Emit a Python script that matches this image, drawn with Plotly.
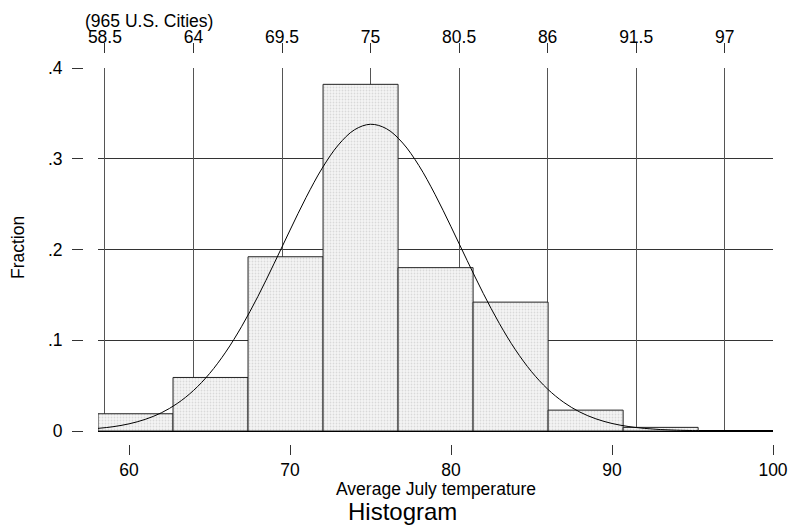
import plotly.graph_objects as go

# ---- data ----
bin_start = 58.07
bin_width = 4.66
fractions = [0.019, 0.059, 0.192, 0.382, 0.180, 0.142, 0.023, 0.004]

curve_x = [58.07, 59, 60, 61, 62, 63, 64, 65, 66, 67, 68, 69, 70, 71, 72, 73, 74,
           75, 76, 77, 78, 79, 80, 81, 82, 83, 84, 85, 86, 87, 88, 89, 90, 91, 92,
           93, 94, 95, 95.35]
curve_y = [0.0029, 0.0047, 0.0079, 0.0128, 0.0200, 0.0304, 0.0446, 0.0633, 0.0869,
           0.1154, 0.1482, 0.1842, 0.2214, 0.2575, 0.2897, 0.3152, 0.3319, 0.3380,
           0.3330, 0.3173, 0.2926, 0.2609, 0.2251, 0.1879, 0.1517, 0.1185, 0.0895,
           0.0654, 0.0462, 0.0316, 0.0209, 0.0134, 0.0083, 0.0050, 0.0029, 0.0016,
           0.0009, 0.0005, 0.0004]

bottom_ticks = [60, 70, 80, 90, 100]
top_ticks = [58.5, 64, 69.5, 75, 80.5, 86, 91.5, 97]
top_ticktext = ["58.5", "64", "69.5", "75", "80.5", "86", "91.5", "97"]
y_ticks = [0, 0.1, 0.2, 0.3, 0.4]
y_ticktext = ["0", ".1", ".2", ".3", ".4"]

x_title = "Average July temperature"
y_title = "Fraction"
subtitle = "(965 U.S. Cities)"
caption = "Histogram"

# ---- layout helpers ----
W, H = 792, 525
def px(x):
    return x / W
def py(y):
    return 1 - y / H

FONT = "Liberation Sans, Arial, sans-serif"
FS = 17.5

centers = [bin_start + bin_width * (i + 0.5) for i in range(len(fractions))]

fig = go.Figure()
fig.add_trace(go.Bar(
    x=centers, y=fractions, width=bin_width,
    marker=dict(color="#eeeeee",
                line=dict(color="#222222", width=1),
                pattern=dict(shape=".", fgcolor="#bdbdbd", bgcolor="#f5f5f5",
                             size=3, solidity=0.3)),
    xaxis="x", yaxis="y", showlegend=False, hoverinfo="skip"))
fig.add_trace(go.Scatter(
    x=curve_x, y=curve_y, mode="lines",
    line=dict(color="black", width=1, shape="spline"),
    xaxis="x", yaxis="y", showlegend=False, hoverinfo="skip"))
fig.add_trace(go.Scatter(x=[], y=[], xaxis="x2", yaxis="y", showlegend=False))

xr = [bin_start, 100]
dom_x = [px(98), px(773)]
fig.update_layout(
    width=W, height=H,
    margin=dict(l=0, r=0, t=0, b=0),
    paper_bgcolor="white", plot_bgcolor="white",
    font=dict(family=FONT, size=FS, color="black"),
    bargap=0,
    xaxis=dict(domain=dom_x, range=xr, tickvals=bottom_ticks,
               ticks="outside", ticklen=10, tickcolor="#333", tickwidth=1,
               showgrid=False, showline=False, zeroline=False,
               anchor="free", position=py(444), automargin=False,
               tickfont=dict(size=FS)),
    xaxis2=dict(domain=dom_x, range=xr, overlaying="x", side="top",
                tickvals=top_ticks, ticktext=top_ticktext,
                ticks="outside", ticklen=10, tickcolor="#333", tickwidth=1,
                showgrid=True, gridcolor="#555555", gridwidth=1,
                showline=False, zeroline=False,
                anchor="free", position=py(53), automargin=False,
                ticklabelstandoff=-7, tickfont=dict(size=FS)),
    yaxis=dict(domain=[py(431), py(68)], range=[0, 0.4],
               tickvals=y_ticks, ticktext=y_ticktext,
               ticks="outside", ticklen=11, tickcolor="#333", tickwidth=1,
               showgrid=True, gridcolor="#333333", gridwidth=1,
               zeroline=True, zerolinecolor="black", zerolinewidth=1.5,
               showline=False, anchor="free", position=px(83),
               automargin=False, ticklabelstandoff=6, tickfont=dict(size=FS)),
    annotations=[
        dict(text=subtitle, x=px(83), y=py(21), xref="paper", yref="paper",
             xanchor="left", yanchor="middle", showarrow=False,
             font=dict(size=FS)),
        dict(text=y_title, x=px(18), y=py(248), xref="paper", yref="paper",
             xanchor="center", yanchor="middle", textangle=-90, showarrow=False,
             font=dict(size=FS)),
        dict(text=x_title, x=px(436), y=py(489), xref="paper", yref="paper",
             xanchor="center", yanchor="middle", showarrow=False,
             font=dict(size=FS)),
        dict(text=caption, x=px(402), y=py(511), xref="paper", yref="paper",
             xanchor="center", yanchor="middle", showarrow=False,
             font=dict(size=24)),
    ],
)

fig.write_html("out.html",
               config={"displayModeBar": False, "staticPlot": True},
               post_script="document.body.style.margin='0';"
                           "document.body.style.overflow='hidden';")
